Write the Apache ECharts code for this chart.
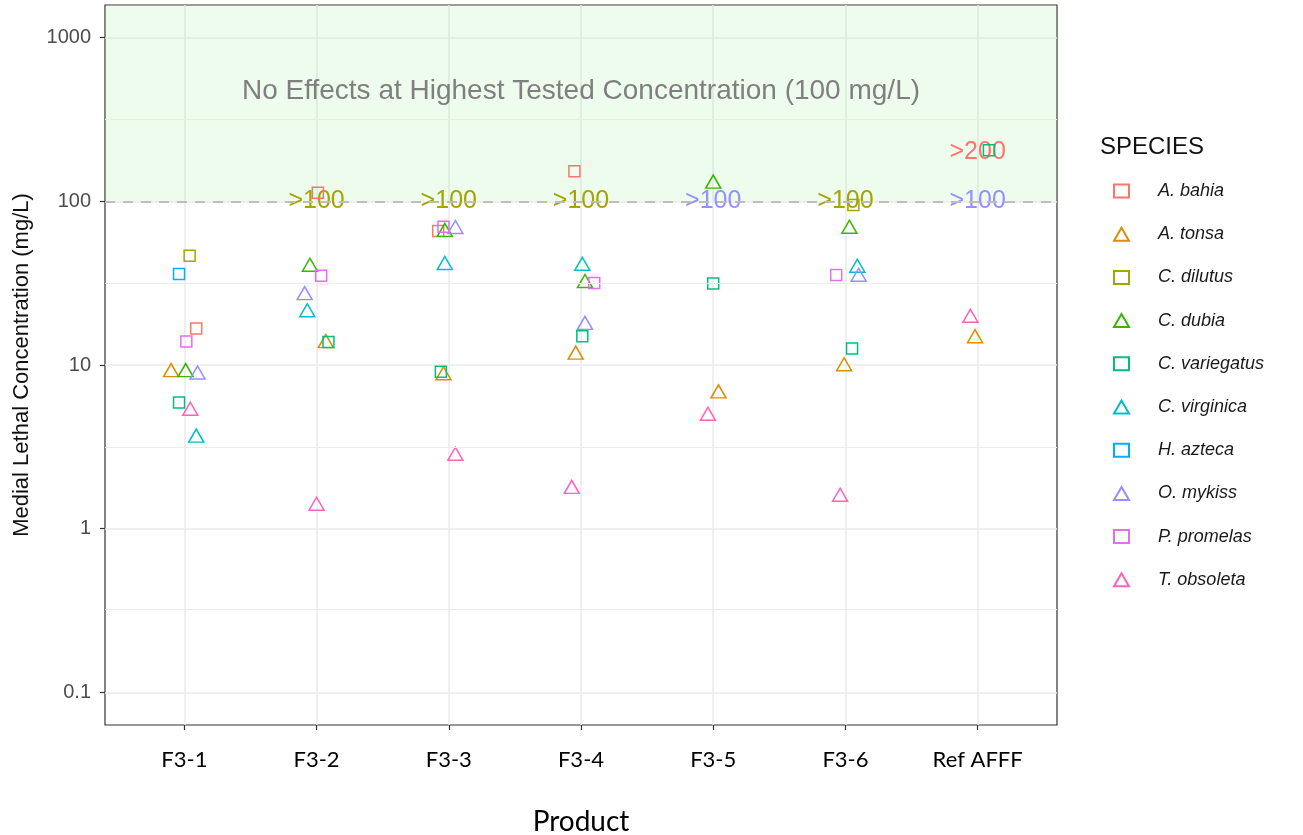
<!DOCTYPE html>
<html>
<head>
<meta charset="utf-8">
<title>Medial Lethal Concentration by Product</title>
<script src="https://cdn.jsdelivr.net/npm/echarts@6/dist/echarts.min.js"></script>
<style>
  html, body { margin: 0; padding: 0; background: #fff; }
  #chart { width: 1303px; height: 835px; }
</style>
</head>
<body>
<div id="chart"></div>
<script>
// products on the x axis (position 1..7)
var products = ['F3-1', 'F3-2', 'F3-3', 'F3-4', 'F3-5', 'F3-6', 'Ref AFFF'];
var yTicks = [0.1, 1, 10, 100, 1000];

var species = ['A. bahia', 'A. tonsa', 'C. dilutus', 'C. dubia', 'C. variegatus',
               'C. virginica', 'H. azteca', 'O. mykiss', 'P. promelas', 'T. obsoleta'];
var speciesColors = ['#F8766D', '#D89000', '#A3A500', '#39B600', '#00BF7D',
                     '#00BFC4', '#00B0F6', '#9590FF', '#E76BF3', '#FF62BC'];
var speciesShapes = ['rect', 'triangle', 'rect', 'triangle', 'rect',
                     'triangle', 'rect', 'triangle', 'rect', 'triangle'];

// [product position incl. jitter, LC50 mg/L]
var aBahia      = [[1.09, 16.7], [2.01, 113], [2.92, 66], [3.95, 153]];
var aTonsa      = [[0.90, 9.3], [2.07, 14.0], [2.96, 8.9], [3.96, 11.9], [5.04, 6.9], [5.99, 10.1], [6.98, 15.0]];
var cDilutus    = [[1.04, 46.5], [6.06, 95]];
var cDubia      = [[1.01, 9.3], [1.95, 41], [2.97, 67], [4.03, 32.6], [5.00, 132], [6.03, 70]];
var cVariegatus = [[0.96, 5.9], [2.09, 13.8], [2.94, 9.1], [4.01, 15.0], [5.00, 31.5], [6.05, 12.6], [7.085, 205]];
var cVirginica  = [[1.09, 3.7], [1.93, 21.6], [2.97, 42], [4.01, 41.6], [6.09, 40.4]];
var hAzteca     = [[0.96, 36]];
var oMykiss     = [[1.10, 9.0], [1.91, 27.5], [3.05, 69.7], [4.03, 18.1], [6.10, 35.6]];
var pPromelas   = [[1.015, 13.9], [2.035, 35.1], [2.96, 70], [4.10, 31.7], [5.93, 35.5]];
var tObsoleta   = [[1.045, 5.4], [2.00, 1.42], [3.05, 2.87], [3.93, 1.8], [4.96, 5.04], [5.96, 1.61], [6.945, 20.0]];
var speciesData = [aBahia, aTonsa, cDilutus, cDubia, cVariegatus,
                   cVirginica, hAzteca, oMykiss, pPromelas, tObsoleta];

// "greater than" annotations
var noteProducts = [2, 3, 4, 5, 6, 7, 7];
var noteValues   = [100, 100, 100, 100, 100, 100, 200];
var noteTexts    = ['>100', '>100', '>100', '>100', '>100', '>100', '>200'];
var noteSpecies  = ['C. dilutus', 'C. dilutus', 'C. dilutus', 'O. mykiss', 'C. dilutus', 'O. mykiss', 'A. bahia'];

var highestTested = 100;
var yMin = Math.pow(10, -1.2), yMax = Math.pow(10, 3.2);
var minorBreaks = [Math.pow(10, -0.5), Math.pow(10, 0.5), Math.pow(10, 1.5), Math.pow(10, 2.5)];

var chart = echarts.init(document.getElementById('chart'));

var series = [];

// background band, reference line, minor grid and annotations
series.push({
    name: 'notes',
    type: 'scatter',
    z: 1,
    symbolSize: 0,
    silent: true,
    itemStyle: { opacity: 1 },
    data: noteTexts.map(function (t, i) {
        return {
            value: [noteProducts[i], noteValues[i]],
            label: { color: speciesColors[species.indexOf(noteSpecies[i])] }
        };
    }),
    label: {
        show: true,
        position: 'inside',
        fontFamily: 'Liberation Sans',
        fontSize: 25,
        formatter: function (p) { return noteTexts[p.dataIndex]; }
    },
    markArea: {
        silent: true,
        itemStyle: { color: 'rgba(144,238,144,0.15)' },
        data: [[{ yAxis: highestTested }, { yAxis: yMax }]]
    },
    markLine: {
        silent: true,
        symbol: 'none',
        label: { show: false },
        data: minorBreaks.map(function (v) {
            return { yAxis: v, lineStyle: { color: '#ebebeb', width: 1, type: 'solid' } };
        }).concat([{ yAxis: highestTested, lineStyle: { color: '#bdbdbd', width: 2, type: [10, 8] } }])
    },
    markPoint: {
        silent: true,
        symbolSize: 0,
        data: [{ coord: [4, 470] }],
        label: {
            show: true,
            position: 'inside',
            formatter: 'No Effects at Highest Tested Concentration (100 mg/L)',
            fontFamily: 'Liberation Sans',
            fontSize: 28,
            color: '#7f7f7f'
        }
    }
});

species.forEach(function (name, i) {
    series.push({
        name: name,
        type: 'scatter',
        z: 3,
        symbol: speciesShapes[i],
        symbolSize: speciesShapes[i] === 'rect' ? 11 : [15, 13],
        itemStyle: { color: 'rgba(0,0,0,0)', borderColor: speciesColors[i], borderWidth: 1.5, opacity: 1 },
        emphasis: { disabled: true },
        data: speciesData[i]
    });
});

var option = {
    animation: false,
    backgroundColor: '#ffffff',
    title: {
        text: 'SPECIES',
        left: 1095,
        top: 130,
        textStyle: { fontFamily: 'Liberation Sans', fontSize: 24, fontWeight: 'normal', color: '#111' }
    },
    legend: {
        orient: 'vertical',
        left: 1108,
        top: 176,
        itemWidth: 15,
        itemHeight: 13,
        itemGap: 23.2,
        data: species,
        textStyle: {
            fontFamily: 'Liberation Sans',
            fontStyle: 'italic',
            fontSize: 18,
            lineHeight: 20,
            color: '#1a1a1a',
            padding: [0, 0, 0, 24]
        }
    },
    grid: {
        left: 105,
        right: 246,
        top: 5,
        bottom: 110,
        outerBoundsMode: 'none',
        containLabel: false,
        show: true,
        borderColor: '#333',
        borderWidth: 1.2,
        backgroundColor: 'transparent'
    },
    xAxis: {
        type: 'value',
        min: 0.4,
        max: 7.6,
        name: 'Product',
        nameLocation: 'middle',
        nameGap: 83,
        nameTextStyle: { fontFamily: 'Lato', fontSize: 28, color: '#000' },
        axisLine: { show: false },
        axisTick: { show: true, length: 5, lineStyle: { color: '#333', width: 1.2 }, customValues: [1, 2, 3, 4, 5, 6, 7] },
        axisLabel: {
            margin: 24,
            fontFamily: 'Lato',
            fontSize: 22,
            color: '#000',
            customValues: [1, 2, 3, 4, 5, 6, 7],
            formatter: function (v) { return products[Math.round(v) - 1] || ''; }
        },
        splitLine: { show: true, lineStyle: { color: '#ebebeb', width: 1.6 } }
    },
    yAxis: {
        type: 'log',
        logBase: 10,
        min: yMin,
        max: yMax,
        name: 'Medial Lethal Concentration (mg/L)',
        nameLocation: 'middle',
        nameGap: 72,
        nameRotate: 90,
        nameTextStyle: { fontFamily: 'Liberation Sans', fontSize: 22, color: '#111' },
        axisLine: { show: false },
        axisTick: { show: true, length: 5, lineStyle: { color: '#333', width: 1.2 }, customValues: yTicks },
        axisLabel: {
            margin: 14,
            fontFamily: 'Liberation Sans',
            fontSize: 20,
            color: '#4d4d4d',
            customValues: yTicks,
            formatter: function (v) { return String(Number(v.toPrecision(3))); }
        },
        splitLine: { show: true, lineStyle: { color: '#ebebeb', width: 1.6 } },
        minorSplitLine: { show: false }
    },
    series: series
};

chart.setOption(option);
</script>
</body>
</html>
